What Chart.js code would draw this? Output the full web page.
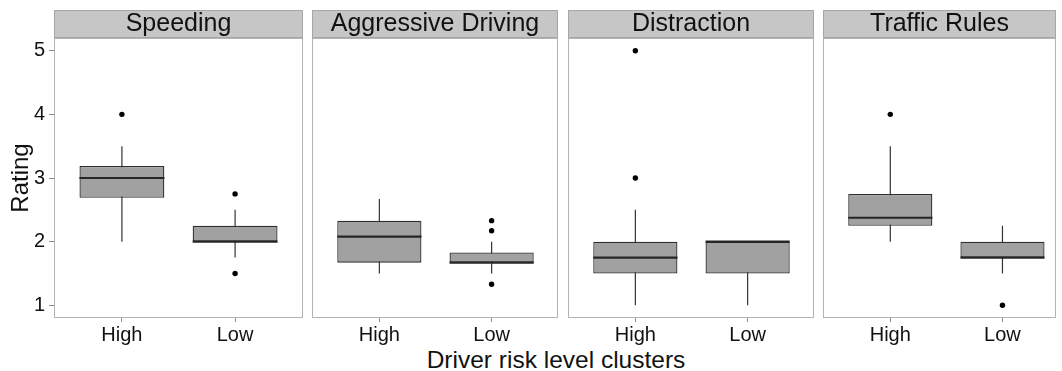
<!DOCTYPE html>
<html>
<head>
<meta charset="utf-8">
<script src="https://cdn.jsdelivr.net/npm/chart.js@4.4.1/dist/chart.umd.min.js"></script>
<style>
  body { margin: 0; background: #fff; }
  #wrap { position: relative; width: 1062px; height: 371px; overflow: hidden; font-family: "Liberation Sans", Arial, sans-serif; }
  #wrap canvas { position: absolute; top: 0; }
  #xtitle { position: absolute; top: 348px; left: 556px; transform: translateX(-50%); font-size: 24.5px; line-height: 24px; color: #111; white-space: nowrap; }
</style>
</head>
<body>
<div id="wrap">
  <div id="xtitle">Driver risk level clusters</div>
</div>
<script>
// data
const panels = ['Speeding', 'Aggressive Driving', 'Distraction', 'Traffic Rules'];
const groups = ['High', 'Low'];
const yTicks = [1, 2, 3, 4, 5];

// one row per panel, one value per group (High, Low)
const lowerWhisker = [[2.0, 1.75], [1.5, 1.5], [1.0, 1.0], [2.0, 1.5]];
const q1           = [[2.69, 2.0], [1.67, 1.67], [1.5, 1.5], [2.25, 1.75]];
const median       = [[3.0, 2.0], [2.08, 1.67], [1.75, 2.0], [2.375, 1.75]];
const q3           = [[3.19, 2.25], [2.33, 1.83], [2.0, 2.0], [2.75, 2.0]];
const upperWhisker = [[3.5, 2.5], [2.67, 2.0], [2.5, 2.0], [3.5, 2.25]];
const outliers = [
  [[4.0], [2.75, 1.5]],
  [[], [2.33, 2.17, 1.33]],
  [[5.0, 3.0], []],
  [[4.0], [1.0]]
];

// layout
const panelLeft = [54, 310, 566, 821];
const panelRight = [305, 560, 816, 1058];
const boxWidth = 0.75;
const unit = (panelRight[0] - panelLeft[0]) / 2.2;
const FONT = "'Liberation Sans', Arial, sans-serif";

Chart.defaults.font.family = FONT;
Chart.defaults.color = '#111';

const panelBox = {
  id: 'panelBox',
  beforeDraw(chart) {
    const {ctx, chartArea: a} = chart;
    const tb = chart.titleBlock;
    ctx.save();
    ctx.fillStyle = '#c6c6c6';
    ctx.fillRect(a.left, tb.top, a.right - a.left, tb.bottom - tb.top);
    ctx.strokeStyle = '#a6a6a6';
    ctx.lineWidth = 1;
    ctx.strokeRect(a.left + 0.5, tb.top + 0.5, a.right - a.left - 1, tb.bottom - tb.top - 1);
    ctx.restore();
  },
  afterDatasetsDraw(chart) {
    const {ctx, chartArea: a} = chart;
    ctx.save();
    ctx.strokeStyle = '#b3b3b3';
    ctx.lineWidth = 1;
    ctx.strokeRect(a.left + 0.5, a.top + 0.5, a.right - a.left - 1, a.bottom - a.top - 1);
    ctx.restore();
  }
};

function rangeData(i, lo, hi) {
  return groups.map((g, k) => ({x: k + 1, y: [lo[i][k], hi[i][k]]}));
}

function medianData(i) {
  const pts = [];
  groups.forEach((g, k) => {
    pts.push({x: k + 1 - boxWidth / 2, y: median[i][k]});
    pts.push({x: k + 1 + boxWidth / 2, y: median[i][k]});
    pts.push({x: k + 1.5, y: null});
  });
  return pts;
}

function outlierData(i) {
  const pts = [];
  groups.forEach((g, k) => {
    outliers[i][k].forEach(v => pts.push({x: k + 1, y: v}));
  });
  return pts;
}

const wrap = document.getElementById('wrap');

panels.forEach((name, i) => {
  const first = i === 0;
  const left = first ? 0 : panelLeft[i] - 2;
  const width = panelRight[i] + 2 - left;
  const canvas = document.createElement('canvas');
  canvas.width = width;
  canvas.height = 371;
  canvas.style.left = left + 'px';
  canvas.style.width = width + 'px';
  canvas.style.height = '371px';
  wrap.appendChild(canvas);

  new Chart(canvas, {
    type: 'bar',
    data: {
      datasets: [
        {
          type: 'bar',
          label: 'whisker',
          data: rangeData(i, lowerWhisker, upperWhisker),
          backgroundColor: '#333333',
          maxBarThickness: 1.2,
          grouped: false,
          order: 3
        },
        {
          type: 'bar',
          label: 'box',
          data: rangeData(i, q1, q3),
          backgroundColor: '#a1a1a1',
          borderColor: '#2e2e2e',
          borderWidth: 1.3,
          borderSkipped: false,
          barPercentage: boxWidth,
          categoryPercentage: 1,
          grouped: false,
          order: 2
        },
        {
          type: 'line',
          label: 'median',
          data: medianData(i),
          borderColor: '#262626',
          borderWidth: 2.2,
          pointRadius: 0,
          spanGaps: false,
          order: 1
        },
        {
          type: 'scatter',
          label: 'outliers',
          data: outlierData(i),
          backgroundColor: '#000',
          borderWidth: 0,
          pointRadius: 2.7,
          order: 0
        }
      ]
    },
    options: {
      responsive: false,
      animation: false,
      devicePixelRatio: 1,
      layout: {padding: {top: 10, left: first ? 0 : 2, right: 2, bottom: 0}},
      plugins: {
        legend: {display: false},
        tooltip: {enabled: false},
        title: {
          display: true,
          text: name,
          fullSize: false,
          padding: 0,
          color: '#111',
          font: {size: 25, weight: 'normal', lineHeight: '28px'}
        }
      },
      scales: {
        x: {
          type: 'linear',
          offset: false,
          min: 0.4,
          max: 0.4 + (panelRight[i] - panelLeft[i]) / unit,
          afterBuildTicks: s => { s.ticks = groups.map((g, k) => ({value: k + 1})); },
          afterFit: s => { s.height = 53; },
          ticks: {
            callback: (v, idx) => groups[idx],
            font: {size: 20},
            color: '#111',
            padding: 1,
            maxRotation: 0,
            autoSkip: false
          },
          grid: {offset: false, drawOnChartArea: false, drawTicks: true, tickLength: 4, color: '#8c8c8c'},
          border: {display: false}
        },
        y: {
          type: 'linear',
          display: first,
          min: 0.8,
          max: 5.2,
          afterBuildTicks: s => { s.ticks = yTicks.map(v => ({value: v})); },
          afterFit: s => { s.width = first ? 54 : 0; },
          ticks: {font: {size: 20}, color: '#111', padding: 4},
          grid: {drawOnChartArea: false, drawTicks: true, tickLength: 5, color: '#8c8c8c'},
          border: {display: false},
          title: {
            display: true,
            text: 'Rating',
            color: '#111',
            font: {size: 24},
            padding: {top: 7, bottom: 0}
          }
        }
      }
    },
    plugins: [panelBox]
  });
});
</script>
</body>
</html>
